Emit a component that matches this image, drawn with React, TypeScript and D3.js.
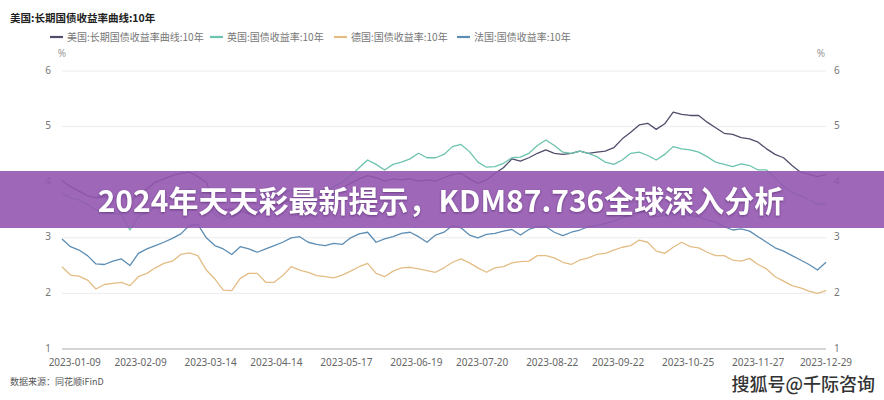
import React from 'react';
import * as d3 from 'd3';

// 10年期国债收益率 (%), 2023-01-03 起每 4 天取一个点
const usYield = [
  4.03, 3.92, 3.84, 3.76, 3.72, 3.74, 3.7, 3.76, 3.66, 3.78,
  3.88, 4.0, 4.06, 4.12, 4.16, 4.18, 4.1, 4.0, 3.6, 3.5,
  3.52, 3.48, 3.44, 3.42, 3.5, 3.58, 3.62, 3.7, 3.6, 3.58,
  3.66, 3.72, 3.8, 3.9, 3.98, 4.06, 4.12, 4.08, 4.02, 4.06,
  4.04, 4.06, 4.02, 4.04, 4.02, 4.08, 4.14, 4.16, 4.06, 3.98,
  4.04, 4.16, 4.26, 4.42, 4.38, 4.44, 4.52, 4.58, 4.52, 4.5,
  4.52, 4.56, 4.52, 4.54, 4.56, 4.62, 4.78, 4.9, 5.03, 5.06,
  4.95, 5.05, 5.26, 5.22, 5.2, 5.2, 5.08, 4.98, 4.88, 4.86,
  4.8, 4.78, 4.72, 4.6, 4.5, 4.44, 4.3, 4.18, 4.14, 4.1, 4.14,
];
const ukYield = [
  3.8, 3.72, 3.68, 3.6, 3.5, 3.46, 3.44, 3.42, 3.14, 3.38,
  3.46, 3.56, 3.64, 3.74, 3.82, 3.88, 3.84, 3.66, 3.42, 3.32,
  3.38, 3.46, 3.54, 3.5, 3.6, 3.72, 3.8, 3.86, 3.76, 3.7,
  3.76, 3.82, 3.92, 4.0, 4.12, 4.26, 4.4, 4.32, 4.22, 4.32,
  4.36, 4.42, 4.52, 4.44, 4.44, 4.5, 4.64, 4.68, 4.55, 4.36,
  4.27, 4.28, 4.34, 4.44, 4.45, 4.52, 4.66, 4.76, 4.66, 4.54,
  4.52, 4.56, 4.52, 4.46, 4.36, 4.32, 4.4, 4.52, 4.54, 4.48,
  4.4, 4.5, 4.64, 4.6, 4.58, 4.54, 4.46, 4.36, 4.32, 4.28,
  4.33, 4.3, 4.22, 4.22, 4.08, 3.92, 3.82, 3.76, 3.68, 3.6, 3.62,
];
const deYield = [
  2.48, 2.33, 2.31, 2.24, 2.08, 2.16, 2.18, 2.2, 2.14, 2.3,
  2.36, 2.46, 2.54, 2.58, 2.7, 2.73, 2.68, 2.42, 2.26, 2.06,
  2.05, 2.27, 2.36, 2.36, 2.2, 2.2, 2.32, 2.48, 2.42, 2.38,
  2.32, 2.3, 2.28, 2.33, 2.4, 2.48, 2.54, 2.36, 2.3, 2.4,
  2.46, 2.47, 2.44, 2.41, 2.38, 2.46, 2.56, 2.62, 2.55, 2.46,
  2.38, 2.46, 2.48, 2.55, 2.57, 2.58, 2.68, 2.68, 2.64, 2.56,
  2.52, 2.6, 2.64, 2.7, 2.72, 2.78, 2.83, 2.86, 2.96, 2.92,
  2.76, 2.72, 2.83, 2.92, 2.84, 2.82, 2.74, 2.68, 2.68, 2.6,
  2.58, 2.63, 2.52, 2.44, 2.3, 2.22, 2.14, 2.1, 2.04, 2.0, 2.05,
];
const frYield = [
  2.98, 2.84, 2.78, 2.68, 2.53, 2.52, 2.58, 2.62, 2.5, 2.72,
  2.8, 2.86, 2.92, 2.99, 3.07, 3.22, 3.24, 3.0, 2.86, 2.8,
  2.7, 2.84, 2.8, 2.74, 2.8, 2.86, 2.92, 3.0, 3.02, 2.92,
  2.88, 2.86, 2.9, 2.88, 3.0, 3.07, 3.1, 2.92, 2.98, 3.02,
  3.08, 3.1, 3.02, 2.92, 3.05, 3.1, 3.22, 3.18, 3.05, 3.0,
  3.06, 3.08, 3.12, 3.15, 3.05, 3.15, 3.2, 3.2, 3.1, 3.04,
  3.1, 3.14, 3.2, 3.22, 3.26, 3.3, 3.36, 3.42, 3.46, 3.48,
  3.38, 3.4, 3.46, 3.44, 3.4, 3.38, 3.32, 3.28, 3.2, 3.14,
  3.16, 3.12, 3.02, 2.92, 2.82, 2.76, 2.68, 2.6, 2.52, 2.42, 2.56,
];

const seriesNames = [
  '美国:长期国债收益率曲线:10年',
  '英国:国债收益率:10年',
  '德国:国债收益率:10年',
  '法国:国债收益率:10年',
];
const xTickLabels = [
  '2023-01-09', '2023-02-09', '2023-03-14', '2023-04-14', '2023-05-17', '2023-06-19',
  '2023-07-20', '2023-08-22', '2023-09-22', '2023-10-25', '2023-11-27', '2023-12-29',
];
const yTicks = [1, 2, 3, 4, 5, 6];

const colors = ['#504e6c', '#6cc3ae', '#e3bd85', '#5d8db3'];
const legendX = [50, 210, 334, 457];

const W = 884;
const H = 400;
const FONT = '"Noto Sans CJK SC", "Noto Sans", sans-serif';
const NUM_FONT = '"Noto Sans", sans-serif';

export default function App() {
  const parse = d3.timeParse('%Y-%m-%d');
  const start = parse('2023-01-03') as Date;
  const end = parse('2023-12-29') as Date;
  const dates = usYield.map((_, i) => d3.timeDay.offset(start, i * 4));

  const x = d3.scaleTime().domain([start, end]).range([62, 826]);
  const y = d3.scaleLinear().domain([1, 6]).range([349, 71]);

  const line = d3
    .line<number>()
    .x((_, i) => x(dates[i]))
    .y((d) => y(d));

  const series = [usYield, ukYield, deYield, frYield];

  return (
    <svg
      width={W}
      height={H}
      style={{ position: 'absolute', left: 0, top: 0, background: '#fff', fontFamily: FONT }}
    >
      <text x={10} y={22} fontSize={10.5} fontWeight="bold" fill="#222">
        美国:长期国债收益率曲线:10年
      </text>

      {seriesNames.map((name, i) => (
        <g key={name} transform={`translate(${legendX[i]},37)`}>
          <line x1={0} x2={13} y1={0} y2={0} stroke={colors[i]} strokeWidth={2.2} />
          <text x={17} y={3.6} fontSize={10} fill="#777">
            {name}
          </text>
        </g>
      ))}

      <text x={62} y={57} fontSize={10} fill="#999" textAnchor="middle" fontFamily={NUM_FONT}>%</text>
      <text x={821} y={57} fontSize={10} fill="#999" textAnchor="middle" fontFamily={NUM_FONT}>%</text>

      {yTicks.map((t) => (
        <g key={t} fontFamily={NUM_FONT}>
          <line
            x1={62}
            x2={826}
            y1={y(t)}
            y2={y(t)}
            stroke={t === 1 ? '#aaa' : '#ececec'}
            strokeWidth={1}
          />
          <text x={51} y={y(t) + 2.5} fontSize={10} fill="#777" textAnchor="end">{t}</text>
          <text x={834} y={y(t) + 2.5} fontSize={10} fill="#777">{t}</text>
        </g>
      ))}

      {xTickLabels.map((lbl) => (
        <text
          key={lbl}
          x={x(parse(lbl) as Date)}
          y={366}
          fontSize={10}
          fill="#666"
          textAnchor="middle"
          fontFamily={NUM_FONT}
        >
          {lbl}
        </text>
      ))}

      {series.map((s, i) => (
        <path
          key={seriesNames[i]}
          d={line(s) ?? ''}
          fill="none"
          stroke={colors[i]}
          strokeWidth={1.3}
          strokeLinejoin="round"
        />
      ))}

      <text x={10} y={385} fontSize={9} fill="#555">数据来源：同花顺iFinD</text>
      <text
        x={875}
        y={391}
        fontSize={18}
        fontWeight={500}
        fill="#333"
        textAnchor="end"
        stroke="#fff"
        strokeWidth={0.6}
        paintOrder="stroke"
      >
        搜狐号@千际咨询
      </text>

      <rect x={0} y={171} width={W} height={57} fill="#9356b0" opacity={0.9} />
      <text
        x={441}
        y={212}
        fontSize={30}
        fontWeight="bold"
        fill="#fff"
        textAnchor="middle"
        style={{ filter: 'drop-shadow(0px 1px 1px rgba(60,20,80,0.5))' }}
      >
        2024年天天彩最新提示，KDM87.736全球深入分析
      </text>
    </svg>
  );
}
